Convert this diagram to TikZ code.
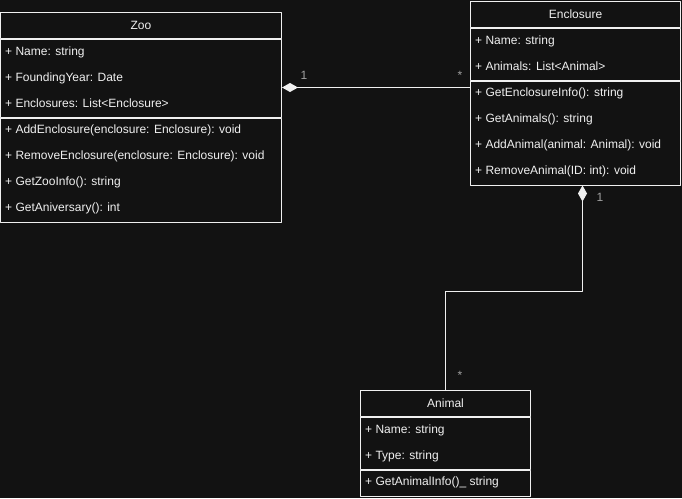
\documentclass[tikz,border=0pt]{standalone}
\usepackage{fontspec}
\setmainfont{Liberation Sans}
\usetikzlibrary{arrows.meta}
\definecolor{bg}{HTML}{121212}
\definecolor{fg}{HTML}{F0F0F0}
\definecolor{lbl}{HTML}{A0A0A0}

\begin{document}
\begin{tikzpicture}[x=1pt, y=-1pt, font=\fontsize{12}{14}\selectfont, line join=round, line cap=round]
	\tikzset{cls/.style={draw=fg, line width=1pt, inner sep=0pt, anchor=north west, text=fg},
		row/.style={anchor=base west, inner sep=0pt, text=fg},
		mult/.style={text=lbl, inner sep=0pt},
		comp/.style={draw=fg, line width=1pt, {Diamond[length=16pt,width=9pt,fill=fg]}-}}
	\fill[bg] (0,0) rectangle (682,498);
	\useasboundingbox (0,0) rectangle (682,498);
	
	% Zoo
	\node[cls, minimum width=281pt, minimum height=26pt] (zoo) at (0,12) {Zoo};
	\node[cls, minimum width=281pt, minimum height=78pt] (zooattr) at (zoo.south west) {};
	\node[cls, minimum width=281pt, minimum height=104pt] (zoometh) at (zooattr.south west) {};
	\foreach \t [count=\i] in {+ Name: string, + FoundingYear: Date, + Enclosures: List<Enclosure>}
	\node[row] (zooa\i) at (5,29.5+26*\i) {\t};
	\foreach \t [count=\i] in {+ AddEnclosure(enclosure: Enclosure): void, + RemoveEnclosure(enclosure: Enclosure): void, + GetZooInfo(): string, + GetAniversary(): int}
	\node[row] (zoom\i) at (5,107.5+26*\i) {\t};
	
	% Enclosure
	\node[cls, minimum width=210pt, minimum height=26pt] (encl) at (470,0.5) {Enclosure};
	\node[cls, minimum width=210pt, minimum height=52pt] (enclattr) at (encl.south west) {};
	\node[cls, minimum width=210pt, minimum height=104pt] (enclmeth) at (enclattr.south west) {};
	\foreach \t [count=\i] in {+ Name: string, + Animals: List<Animal>}
	\node[row] (encla\i) at (475,18+26*\i) {\t};
	\foreach \t [count=\i] in {+ GetEnclosureInfo(): string, + GetAnimals(): string, + AddAnimal(animal: Animal): void, + RemoveAnimal(ID: int): void}
	\node[row] (enclm\i) at (475,70+26*\i) {\t};
	
	% Animal
	\node[cls, minimum width=170pt, minimum height=26pt] (animal) at (360,390) {Animal};
	\node[cls, minimum width=170pt, minimum height=52pt] (animalattr) at (animal.south west) {};
	\node[cls, minimum width=170pt, minimum height=26pt] (animalmeth) at (animalattr.south west) {};
	\foreach \t [count=\i] in {+ Name: string, + Type: string}
	\node[row] (animala\i) at (365,407.5+26*\i) {\t};
	\node[row] (animalm1) at (365,485.5) {+ GetAnimalInfo()\_ string};
	
	% compositions
	\draw[comp] ([yshift=-9pt]zooattr.east) -- ([yshift=-9pt]zooattr.east -| enclmeth.west);
	\draw[comp] ([xshift=7pt]enclmeth.south) |- ([yshift=99pt]animal.north) -- (animal.north);
	\node[mult] (zoo1) at (304,75) {1};
	\node[mult] (enclstar) at (460,75.5) {*};
	\node[mult] (encl1) at (600,197) {1};
	\node[mult] (animalstar) at (460,375.5) {*};
\end{tikzpicture}
\end{document}
